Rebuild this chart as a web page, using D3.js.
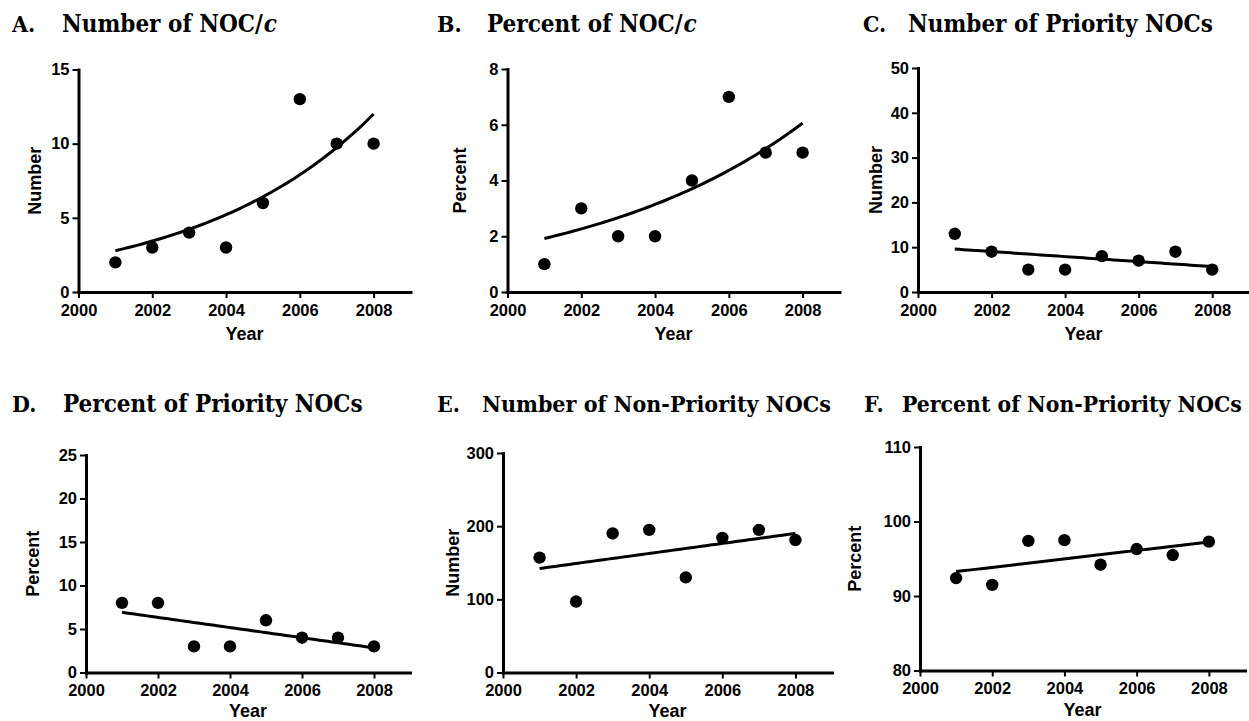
<!DOCTYPE html>
<html>
<head>
<meta charset="utf-8">
<title>NOC trends</title>
<script src="https://d3js.org/d3.v7.min.js"></script>
<style>
  body { margin: 0; background: #fff; }
  .tick text { font-family: "Liberation Sans", Arial, sans-serif; font-weight: bold; font-size: 16.5px; fill: #000; }
  .axis-title { font-family: "Liberation Sans", Arial, sans-serif; font-weight: bold; font-size: 18px; }
  .panel-title { font-family: "DejaVu Serif Condensed", "DejaVu Serif", serif; font-stretch: condensed; font-weight: bold; font-size: 23px; }
</style>
</head>
<body>
<svg id="chart" width="1249" height="721"></svg>
<script>
// values
var years = [2001, 2002, 2003, 2004, 2005, 2006, 2007, 2008];
var numberNOCc   = [2, 3, 4, 3, 6, 13, 10, 10];
var percentNOCc  = [1, 3, 2, 2, 4, 7, 5, 5];
var numberPrio   = [13, 9, 5, 5, 8, 7, 9, 5];
var percentPrio  = [8, 8, 3, 3, 6, 4, 4, 3];
var numberNonPrio  = [157, 97, 190, 195, 130, 184, 195, 181];
var percentNonPrio = [92.4, 91.5, 97.4, 97.5, 94.2, 96.3, 95.5, 97.3];

var xTicks = [2000, 2002, 2004, 2006, 2008];
var ticksA = [0, 5, 10, 15];
var ticksB = [0, 2, 4, 6, 8];
var ticksC = [0, 10, 20, 30, 40, 50];
var ticksD = [0, 5, 10, 15, 20, 25];
var ticksE = [0, 100, 200, 300];
var ticksF = [80, 90, 100, 110];

var panels = [
  { letter: 'A.', title: ['Number of NOC/', 'c'], yTitle: 'Number', values: numberNOCc, ticks: ticksA, fit: 'exp',
    lx: 12, tx: 62, ty: 32, tw: 220, x0: 78.5, w: 332, top: 69.5, zero: 292, yLab: 44, xLab: 42 },
  { letter: 'B.', title: ['Percent of NOC/', 'c'], yTitle: 'Percent', values: percentNOCc, ticks: ticksB, fit: 'exp',
    lx: 437, tx: 487, ty: 32, tw: 214, x0: 507.5, w: 332, top: 69, zero: 292, yLab: 48, xLab: 42 },
  { letter: 'C.', title: ['Number of Priority NOCs'], yTitle: 'Number', values: numberPrio, ticks: ticksC, fit: 'lin',
    lx: 863, tx: 908, ty: 32, tw: 310, x0: 918, w: 331, top: 68, zero: 292, yLab: 42, xLab: 42 },
  { letter: 'D.', title: ['Percent of Priority NOCs'], yTitle: 'Percent', values: percentPrio, ticks: ticksD, fit: 'lin',
    lx: 12, tx: 63, ty: 411.5, tw: 304, x0: 86, w: 324, top: 455, zero: 672.5, yLab: 53, xLab: 38 },
  { letter: 'E.', title: ['Number of Non-Priority NOCs'], yTitle: 'Number', values: numberNonPrio, ticks: ticksE, fit: 'lin',
    lx: 437, tx: 482, ty: 411.5, tw: 349, x0: 503, w: 329, top: 453, zero: 672.5, yLab: 50, xLab: 38 },
  { letter: 'F.', title: ['Percent of Non-Priority NOCs'], yTitle: 'Percent', values: percentNonPrio, ticks: ticksF, fit: 'lin',
    lx: 864, tx: 902, ty: 411.5, tw: 340, x0: 920, w: 325, top: 447, zero: 670.5, yLab: 65, xLab: 39 }
];

// least squares straight line
function linFit(xs, ys) {
  var mx = d3.mean(xs), my = d3.mean(ys);
  var sxy = d3.sum(xs, function(x, i) { return (x - mx) * (ys[i] - my); });
  var sxx = d3.sum(xs, function(x) { return (x - mx) * (x - mx); });
  var b = sxy / sxx;
  return function(x) { return my + b * (x - mx); };
}

// exponential growth y = a*exp(k*t), Gauss-Newton from a log-linear start
function expFit(xs, ys) {
  var ts = xs.map(function(x) { return x - 2000; });
  var lg = linFit(ts, ys.map(Math.log));
  var k = lg(1) - lg(0), a = Math.exp(lg(0));
  for (var it = 0; it < 100; it++) {
    var jaa = 0, jak = 0, jkk = 0, ra = 0, rk = 0;
    ts.forEach(function(t, i) {
      var e = Math.exp(k * t), f = a * e, r = ys[i] - f;
      var da = e, dk = a * t * e;
      jaa += da * da; jak += da * dk; jkk += dk * dk;
      ra += da * r; rk += dk * r;
    });
    var det = jaa * jkk - jak * jak;
    a += (jkk * ra - jak * rk) / det;
    k += (jaa * rk - jak * ra) / det;
  }
  return function(x) { return a * Math.exp(k * (x - 2000)); };
}

var svg = d3.select('#chart');

panels.forEach(function(p) {
  var g = svg.append('g');

  var x = d3.scaleLinear().domain([2000, 2009]).range([p.x0, p.x0 + p.w]);
  var y = d3.scaleLinear().domain([p.ticks[0], p.ticks[p.ticks.length - 1]]).range([p.zero, p.top]);

  // title, font size scaled so the text spans the width seen in the figure
  g.append('text').attr('class', 'panel-title').attr('x', p.lx).attr('y', p.ty).text(p.letter);
  var t = g.append('text').attr('class', 'panel-title').attr('x', p.tx).attr('y', p.ty);
  t.append('tspan').text(p.title[0]);
  if (p.title[1]) t.append('tspan').attr('font-style', 'italic').attr('dx', 1).text(p.title[1]);
  var natural = t.node().getComputedTextLength();
  t.style('font-size', Math.max(20, Math.min(24, 23 * p.tw / natural)) + 'px');

  // axes
  var xa = g.append('g').attr('transform', 'translate(0,' + p.zero + ')')
    .call(d3.axisBottom(x).tickValues(xTicks).tickFormat(d3.format('d')).tickSize(6).tickSizeOuter(0).tickPadding(6));
  var ya = g.append('g').attr('transform', 'translate(' + p.x0 + ',0)')
    .call(d3.axisLeft(y).tickValues(p.ticks).tickFormat(d3.format('d')).tickSize(6).tickSizeOuter(0).tickPadding(3));
  [xa, ya].forEach(function(a) {
    a.select('.domain').attr('stroke', '#000').attr('stroke-width', 3).attr('stroke-linecap', 'square');
    a.selectAll('.tick line').attr('stroke', '#000').attr('stroke-width', 2);
  });

  g.append('text').attr('class', 'axis-title')
    .attr('x', p.x0 + p.w / 2).attr('y', p.zero + p.xLab)
    .attr('text-anchor', 'middle').attr('dominant-baseline', 'central').text('Year');
  g.append('text').attr('class', 'axis-title')
    .attr('transform', 'translate(' + (p.x0 - p.yLab) + ',' + ((p.top + p.zero) / 2) + ') rotate(-90)')
    .attr('text-anchor', 'middle').attr('dominant-baseline', 'central').text(p.yTitle);

  // fitted curve
  var f = p.fit === 'exp' ? expFit(years, p.values) : linFit(years, p.values);
  var xs = d3.range(0, 61).map(function(i) { return 2001 + i * 7 / 60; });
  g.append('path')
    .datum(xs)
    .attr('fill', 'none').attr('stroke', '#000').attr('stroke-width', 3)
    .attr('d', d3.line().x(function(d) { return x(d); }).y(function(d) { return y(f(d)); }));

  // points
  g.selectAll('circle.pt').data(years).enter().append('circle')
    .attr('class', 'pt')
    .attr('cx', function(d) { return x(d); })
    .attr('cy', function(d, i) { return y(p.values[i]); })
    .attr('r', 6.2)
    .attr('fill', '#000');
});
</script>
</body>
</html>
